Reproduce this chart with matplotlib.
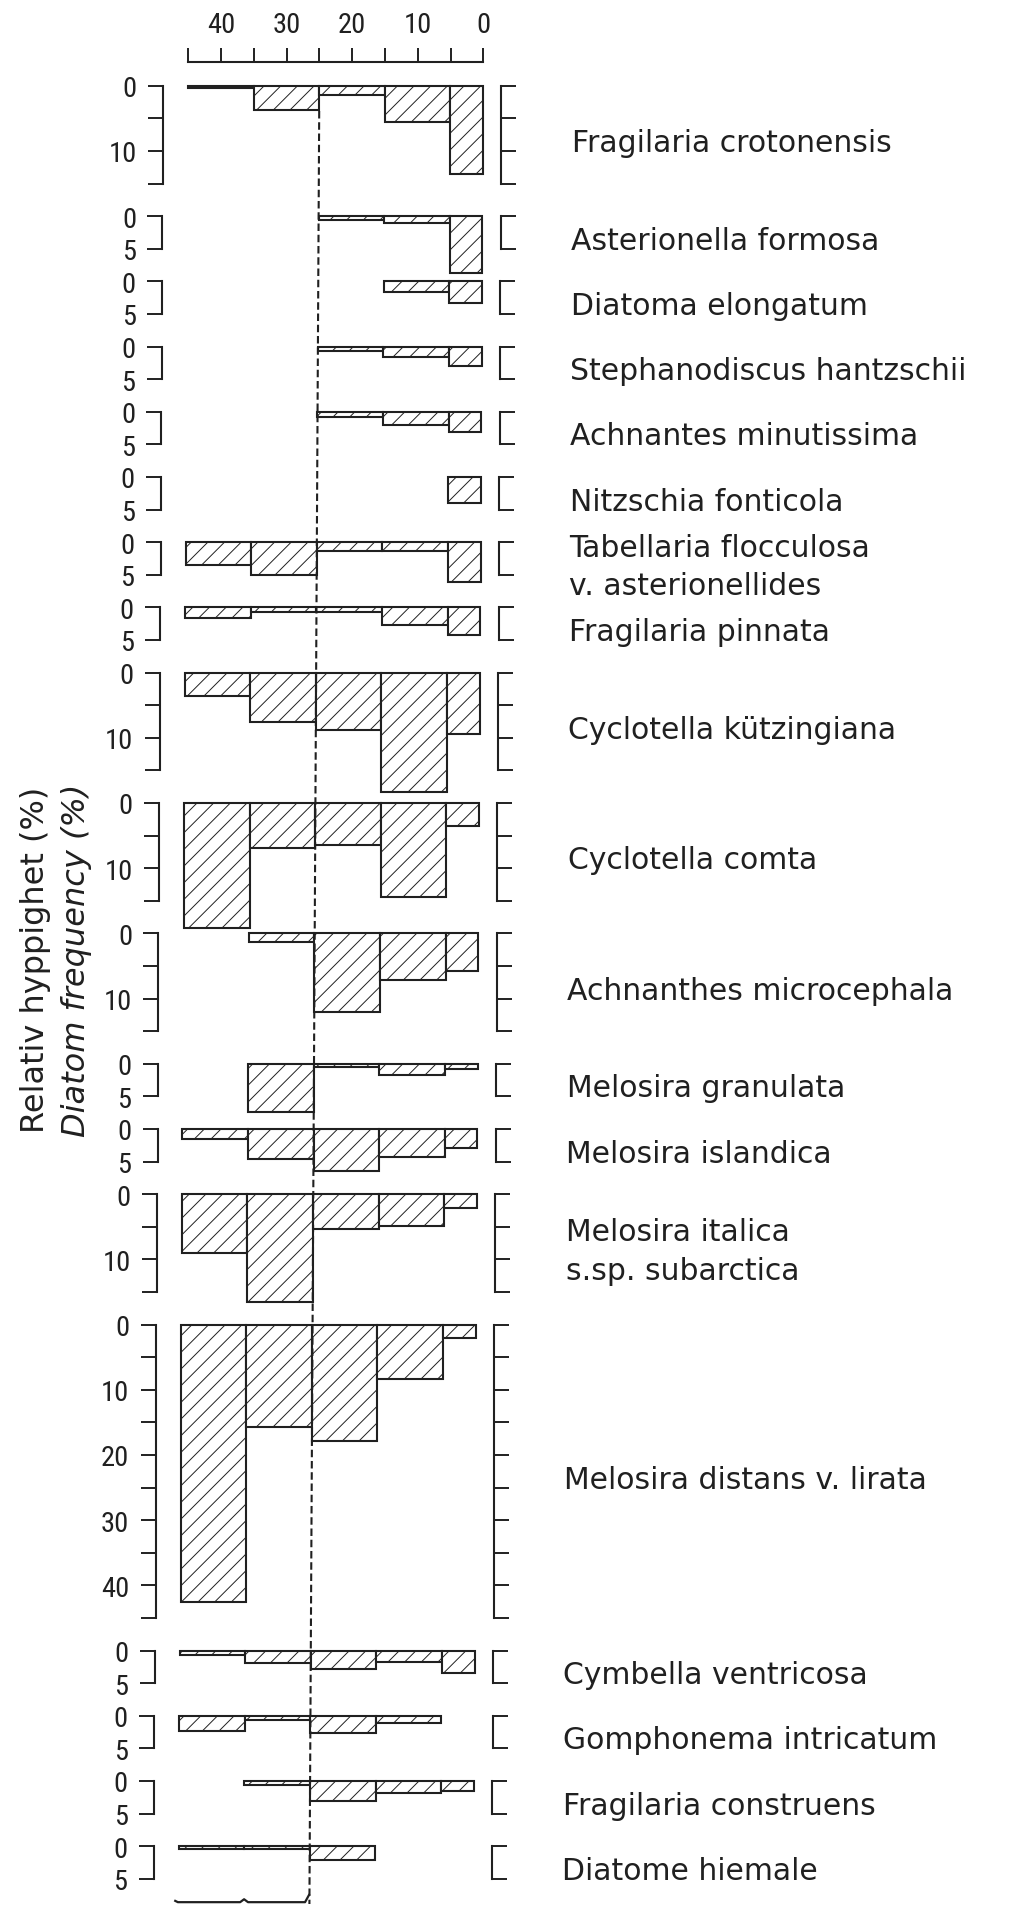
import numpy as np
import matplotlib
matplotlib.use('Agg')
import matplotlib.pyplot as plt
from matplotlib.lines import Line2D

OUTPUT_PATH = 'out.png'
W, H = 1030, 1908
INK = '#202020'

# species, scale length of each panel (%), frequencies per depth bin (%)
species = ['Fragilaria crotonensis', 'Asterionella formosa', 'Diatoma elongatum',
           'Stephanodiscus hantzschii', 'Achnantes minutissima', 'Nitzschia fonticola',
           'Tabellaria flocculosa\nv. asterionellides', 'Fragilaria pinnata',
           'Cyclotella kützingiana', 'Cyclotella comta', 'Achnanthes microcephala',
           'Melosira granulata', 'Melosira islandica',
           'Melosira italica\ns.sp. subarctica', 'Melosira distans v. lirata',
           'Cymbella ventricosa', 'Gomphonema intricatum', 'Fragilaria construens',
           'Diatome hiemale']
scale_max = [15, 5, 5, 5, 5, 5, 5, 5, 15, 15, 15, 5, 5, 15, 45, 5, 5, 5, 5]
bin_edges = [45, 35, 25, 15, 5, 0]
freq = [
    [0.4, 3.7, 1.5, 5.6, 13.5],
    [None, None, 0.6, 1.0, 8.8],
    [None, None, None, 1.7, 3.4],
    [None, None, 0.75, 1.6, 3.0],
    [None, None, 0.8, 2.0, 3.05],
    [None, None, None, None, 4.0],
    [3.5, 5.1, 1.4, 1.3, 6.1],
    [1.6, 0.65, 0.65, 2.65, 4.2],
    [3.6, 7.6, 8.8, 18.3, 9.4],
    [19.2, 6.9, 6.5, 14.4, 3.6],
    [None, 1.3, 12.1, 7.1, 5.8],
    [None, 7.4, 0.55, 1.8, 0.75],
    [1.5, 4.6, 6.5, 4.3, 2.9],
    [9.1, 16.5, 5.4, 4.9, 2.1],
    [42.5, 15.7, 17.8, 8.3, 2.0],
    [0.75, 1.9, 2.9, 1.7, 3.4],
    [2.4, 0.6, 2.6, 1.1, None],
    [None, 0.65, 3.15, 1.9, 1.6],
    [0.4, 0.5, 2.2, None, None],
]
top_ticks = [45, 40, 35, 30, 25, 20, 15, 10, 5, 0]
DASH_AT = 25          # dashed reference line
BRACE_SPAN = (45, 25)  # brace under the bottom panel

# page layout (pixels)
PX_X, PX_Y = 6.556, 6.52
TOP0 = 86.7
AX_LEFT_PX = 163.3
X_LEFT, X_RIGHT = 48.8, -2.8
AX_W_PX = (X_LEFT - X_RIGHT) * PX_X
SKEW = -9.0 / 1650      # the scan is slightly rotated
LABEL_X = 572
LABEL_DY = 8
DIGITS = ['Liberation Sans Narrow', 'Roboto Condensed', 'Roboto', 'DejaVu Sans']
DIGIT_SIZE = 20.5

plt.rcParams['font.family'] = ['DejaVu Sans']
plt.rcParams['hatch.linewidth'] = 0.7
plt.rcParams['hatch.color'] = INK


def shift(y):
    return SKEW * (y - TOP0)


def x_px(val, y):
    return AX_LEFT_PX + (X_LEFT - val) * PX_X + shift(y)


fig = plt.figure(figsize=(W / 100, H / 100), dpi=100, facecolor='white')

# top scale
y_axis = 63
ax_top = fig.add_axes([(AX_LEFT_PX + shift(y_axis)) / W, 1 - (y_axis + 10) / H,
                       AX_W_PX / W, 10 / H])
ax_top.set_xlim(X_LEFT, X_RIGHT)
ax_top.patch.set_alpha(0)
for side in ['left', 'right', 'bottom']:
    ax_top.spines[side].set_visible(False)
ax_top.spines['top'].set_bounds(bin_edges[0], bin_edges[-1])
ax_top.spines['top'].set_linewidth(1.5)
ax_top.spines['top'].set_color(INK)
ax_top.xaxis.set_ticks_position('top')
ax_top.set_xticks(top_ticks, [str(t) if t % 10 == 0 else '' for t in top_ticks])
ax_top.set_yticks([])
ax_top.tick_params(axis='x', direction='out', length=10, width=1.4, pad=7,
                   labelsize=DIGIT_SIZE, colors=INK)
for lab in ax_top.get_xticklabels():
    lab.set_family(DIGITS)

cum = 0
last_ax = None
for i, name in enumerate(species):
    m = scale_max[i]
    slot = m + 5
    y_top = TOP0 + cum * PX_Y
    h = slot * PX_Y
    left = AX_LEFT_PX + shift(y_top + m * PX_Y / 2)
    ax = fig.add_axes([left / W, 1 - (y_top + h) / H, AX_W_PX / W, h / H])
    ax.set_xlim(X_LEFT, X_RIGHT)
    ax.set_ylim(slot, 0)
    ax.patch.set_alpha(0)
    ax.spines['top'].set_visible(False)
    ax.spines['bottom'].set_visible(False)
    for side in ['left', 'right']:
        ax.spines[side].set_bounds(0, m)
        ax.spines[side].set_linewidth(1.5)
        ax.spines[side].set_color(INK)

    ticks = np.arange(0, m + 1, 5)
    labels = [str(t) if (m == 5 or t % 10 == 0) else '' for t in ticks]
    ax.set_yticks(ticks, labels)
    ax.set_xticks([])
    ax.tick_params(axis='y', left=True, right=True, direction='out', length=10.5,
                   width=1.4, pad=8.5, labelsize=DIGIT_SIZE, colors=INK)
    for lab in ax.get_yticklabels():
        lab.set_family(DIGITS)

    for j, v in enumerate(freq[i]):
        if v is None:
            continue
        ax.bar(bin_edges[j + 1], v, width=bin_edges[j] - bin_edges[j + 1],
               align='edge', facecolor='white', edgecolor=INK, linewidth=1.5,
               hatch='//', clip_on=False)

    y_c = y_top + m * PX_Y / 2 + LABEL_DY
    fig.text((LABEL_X + shift(y_c)) / W, 1 - y_c / H, name, ha='left', va='center',
             fontsize=21.5, color=INK, linespacing=1.4)

    last_ax = ax
    cum += slot

# dashed reference line through all panels
y1, y2 = 112, 1905
fig.add_artist(Line2D([x_px(DASH_AT, y1) / W, x_px(DASH_AT, y2) / W],
                      [1 - y1 / H, 1 - y2 / H], transform=fig.transFigure,
                      color=INK, linewidth=1.5, linestyle=(0, (3.6, 1.8))))

# brace under the two deepest bins
b0, b1 = BRACE_SPAN
mid = (b0 + b1) / 2
yb = 8.6
last_ax.plot([b0 + 0.5, b0 + 0.1, mid + 0.6, mid, mid - 0.6, b1 + 0.7, b1 + 0.1],
             [yb - 0.2, yb, yb, yb - 0.45, yb, yb, yb - 1.1],
             color=INK, linewidth=1.6, clip_on=False)

# axis titles
fig.text(36 / W, 1 - 960 / H, 'Relativ hyppighet (%)', rotation=90,
         ha='center', va='center', fontsize=23, color=INK)
fig.text(77 / W, 1 - 960 / H, 'Diatom frequency (%)', rotation=90,
         ha='center', va='center', fontsize=23, color=INK, style='italic')

plt.savefig(OUTPUT_PATH, dpi=100, facecolor='white')
plt.close()
